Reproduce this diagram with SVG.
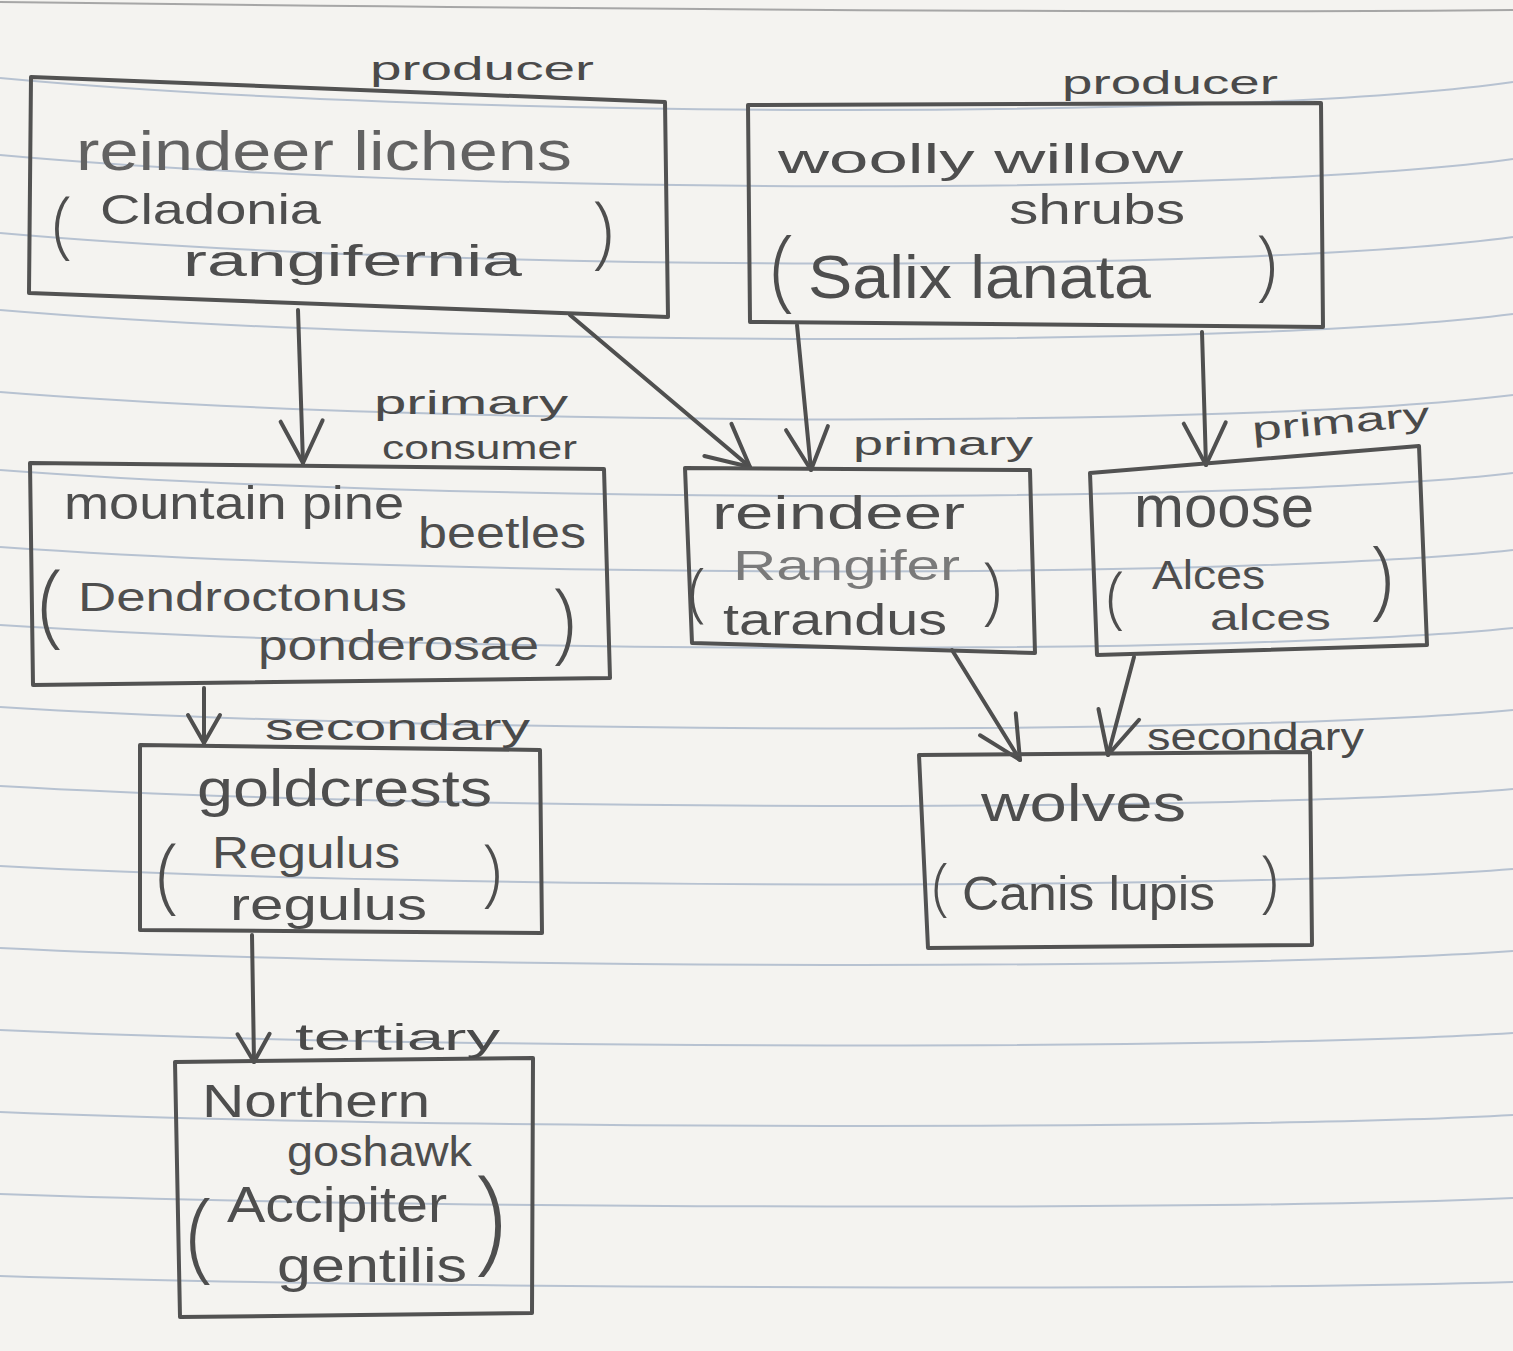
<svg xmlns="http://www.w3.org/2000/svg" width="1513" height="1351" viewBox="0 0 1513 1351">
<style>
.paper{fill:#f4f3f0}
.rule{fill:none;stroke:#b7c2d1;stroke-width:2}
.box{fill:none;stroke:#525252;stroke-width:4;stroke-linejoin:round}
.t{font-family:"Liberation Sans",Arial,sans-serif;fill:#4e4e4e}
.lab{font-family:"Liberation Sans",Arial,sans-serif;fill:#4a4a4a}
.par{font-family:"Open Sans","Liberation Sans",sans-serif;font-weight:300;fill:#4e4e4e}
.faint{fill:#7a7a7a}
.soft{fill:#626262}
.arr{fill:none;stroke:#4f4f4f;stroke-width:4;stroke-linecap:round}
</style>
<defs>
<marker id="ah" markerUnits="userSpaceOnUse" markerWidth="60" markerHeight="60" refX="0" refY="0" orient="auto" overflow="visible">
<path d="M-42,-21 L0,0 L-42,21" fill="none" stroke="#4f4f4f" stroke-width="4" stroke-linecap="round" stroke-linejoin="round"/>
</marker>
<marker id="ahs" markerUnits="userSpaceOnUse" markerWidth="40" markerHeight="40" refX="0" refY="0" orient="auto" overflow="visible">
<path d="M-28,-16 L0,0 L-28,16" fill="none" stroke="#4f4f4f" stroke-width="4" stroke-linecap="round" stroke-linejoin="round"/>
</marker>
</defs>
<rect class="paper" x="0" y="0" width="1513" height="1351"/>
<g id="ruling">
<path d="M0,2 C500,8 1100,14 1513,10" fill="none" stroke="#a6a6a6" stroke-width="2"/>
<path class="rule" d="M0,78 C450,120 1250,120 1513,82"/>
<path class="rule" d="M0,155 C450,196 1250,196 1513,159"/>
<path class="rule" d="M0,233 C450,273 1250,273 1513,237"/>
<path class="rule" d="M0,310 C450,348 1250,348 1513,314"/>
<path class="rule" d="M0,392 C450,428 1250,428 1513,395"/>
<path class="rule" d="M0,470 C450,504 1250,504 1513,473"/>
<path class="rule" d="M0,547 C450,579 1250,579 1513,550"/>
<path class="rule" d="M0,625 C450,655 1250,655 1513,628"/>
<path class="rule" d="M0,707 C450,735 1250,735 1513,710"/>
<path class="rule" d="M0,786 C450,812 1250,812 1513,789"/>
<path class="rule" d="M0,866 C450,890 1250,890 1513,869"/>
<path class="rule" d="M0,948 C450,970 1250,970 1513,951"/>
<path class="rule" d="M0,1030 C450,1050 1250,1050 1513,1033"/>
<path class="rule" d="M0,1112 C450,1130 1250,1130 1513,1115"/>
<path class="rule" d="M0,1194 C450,1210 1250,1210 1513,1198"/>
<path class="rule" d="M0,1276 C450,1290 1250,1290 1513,1282"/>
</g>
<g id="connectors">
<path class="arr" d="M298,310 L303,463" marker-end="url(#ah)"/>
<path class="arr" d="M570,315 L750,467" marker-end="url(#ah)"/>
<path class="arr" d="M797,325 L811,470" marker-end="url(#ah)"/>
<path class="arr" d="M1202,332 L1206,465" marker-end="url(#ah)"/>
<path class="arr" d="M204,688 L204,743" marker-end="url(#ahs)"/>
<path class="arr" d="M252,935 L254,1062" marker-end="url(#ahs)"/>
<path class="arr" d="M952,650 L1020,760" marker-end="url(#ah)"/>
<path class="arr" d="M1134,657 L1108,755" marker-end="url(#ah)"/>
</g>
<g id="node-lichens">
<polygon class="box" points="31,77 665,102 668,317 29,293"/>
<text class="lab" x="370" y="80" font-size="34" textLength="224" lengthAdjust="spacingAndGlyphs">producer</text>
<text class="t soft" x="76" y="170" font-size="56" textLength="496" lengthAdjust="spacingAndGlyphs">reindeer lichens</text>
<text class="par" x="52" y="249" font-size="74">(</text>
<text class="t" x="100" y="224" font-size="42" textLength="221" lengthAdjust="spacingAndGlyphs">Cladonia</text>
<text class="t" x="183" y="276" font-size="44" textLength="339" lengthAdjust="spacingAndGlyphs">rangifernia</text>
<text class="par" x="592" y="258" font-size="80">)</text>
</g>
<g id="node-willow">
<polygon class="box" points="748,105 1321,103 1323,327 750,322"/>
<text class="lab" x="1062" y="94" font-size="34" textLength="216" lengthAdjust="spacingAndGlyphs">producer</text>
<text class="t" x="778" y="173" font-size="40" textLength="405" lengthAdjust="spacingAndGlyphs">woolly willow</text>
<text class="t" x="1009" y="224" font-size="42" textLength="176" lengthAdjust="spacingAndGlyphs">shrubs</text>
<text class="par" x="770" y="300" font-size="90">(</text>
<text class="t" x="808" y="298" font-size="62" textLength="343" lengthAdjust="spacingAndGlyphs">Salix lanata</text>
<text class="par" x="1256" y="291" font-size="78">)</text>
</g>
<g id="node-beetles">
<polygon class="box" points="30,463 604,469 610,678 33,685"/>
<text class="lab" x="374" y="414" font-size="34" textLength="194" lengthAdjust="spacingAndGlyphs">primary</text>
<text class="lab" x="382" y="459" font-size="34" textLength="195" lengthAdjust="spacingAndGlyphs">consumer</text>
<text class="t" x="64" y="519" font-size="46" textLength="340" lengthAdjust="spacingAndGlyphs">mountain pine</text>
<text class="t" x="418" y="548" font-size="44" textLength="168" lengthAdjust="spacingAndGlyphs">beetles</text>
<text class="par" x="38" y="635" font-size="92">(</text>
<text class="t" x="78" y="611" font-size="40" textLength="329" lengthAdjust="spacingAndGlyphs">Dendroctonus</text>
<text class="t" x="258" y="660" font-size="42" textLength="281" lengthAdjust="spacingAndGlyphs">ponderosae</text>
<text class="par" x="552" y="652" font-size="88">)</text>
</g>
<g id="node-reindeer">
<polygon class="box" points="685,468 1030,470 1035,653 692,643"/>
<text class="lab" x="853" y="455" font-size="34" textLength="180" lengthAdjust="spacingAndGlyphs">primary</text>
<text class="t" x="712" y="529" font-size="46" textLength="253" lengthAdjust="spacingAndGlyphs">reindeer</text>
<text class="par" x="688" y="614" font-size="65">(</text>
<text class="t faint" x="733" y="580" font-size="42" textLength="227" lengthAdjust="spacingAndGlyphs">Rangifer</text>
<text class="t" x="723" y="635" font-size="44" textLength="224" lengthAdjust="spacingAndGlyphs">tarandus</text>
<text class="par" x="982" y="615" font-size="73">)</text>
</g>
<g id="node-moose">
<polygon class="box" points="1090,473 1419,446 1427,645 1097,655"/>
<text class="lab" x="1253" y="441" font-size="34" textLength="178" lengthAdjust="spacingAndGlyphs" transform="rotate(-5 1253 441)">primary</text>
<text class="t" x="1134" y="527" font-size="60" textLength="180" lengthAdjust="spacingAndGlyphs">moose</text>
<text class="par" x="1106" y="620" font-size="68">(</text>
<text class="t" x="1152" y="589" font-size="40" textLength="113" lengthAdjust="spacingAndGlyphs">Alces</text>
<text class="t" x="1210" y="630" font-size="36" textLength="121" lengthAdjust="spacingAndGlyphs">alces</text>
<text class="par" x="1370" y="608" font-size="86">)</text>
</g>
<g id="node-goldcrests">
<polygon class="box" points="140,745 540,750 542,933 140,930"/>
<text class="lab" x="265" y="740" font-size="36" textLength="265" lengthAdjust="spacingAndGlyphs">secondary</text>
<text class="t" x="197" y="806" font-size="52" textLength="295" lengthAdjust="spacingAndGlyphs">goldcrests</text>
<text class="par" x="156" y="903" font-size="83">(</text>
<text class="t" x="212" y="868" font-size="44" textLength="188" lengthAdjust="spacingAndGlyphs">Regulus</text>
<text class="t" x="230" y="920" font-size="44" textLength="197" lengthAdjust="spacingAndGlyphs">regulus</text>
<text class="par" x="482" y="897" font-size="73">)</text>
</g>
<g id="node-wolves">
<polygon class="box" points="919,755 1310,752 1312,945 928,948"/>
<text class="lab" x="1147" y="750" font-size="38" textLength="217" lengthAdjust="spacingAndGlyphs">secondary</text>
<text class="t" x="981" y="821" font-size="52" textLength="205" lengthAdjust="spacingAndGlyphs">wolves</text>
<text class="par" x="932" y="908" font-size="62">(</text>
<text class="t" x="962" y="910" font-size="48" textLength="253" lengthAdjust="spacingAndGlyphs">Canis lupis</text>
<text class="par" x="1260" y="904" font-size="68">)</text>
</g>
<g id="node-goshawk">
<polygon class="box" points="175,1062 533,1058 532,1313 180,1317"/>
<text class="lab" x="295" y="1050" font-size="36" textLength="205" lengthAdjust="spacingAndGlyphs">tertiary</text>
<text class="t" x="202" y="1117" font-size="46" textLength="228" lengthAdjust="spacingAndGlyphs">Northern</text>
<text class="t" x="287" y="1166" font-size="42" textLength="185" lengthAdjust="spacingAndGlyphs">goshawk</text>
<text class="par" x="186" y="1269" font-size="100">(</text>
<text class="t" x="227" y="1222" font-size="50" textLength="220" lengthAdjust="spacingAndGlyphs">Accipiter</text>
<text class="t" x="277" y="1282" font-size="48" textLength="190" lengthAdjust="spacingAndGlyphs">gentilis</text>
<text class="par" x="474" y="1259" font-size="117">)</text>
</g>
</svg>
